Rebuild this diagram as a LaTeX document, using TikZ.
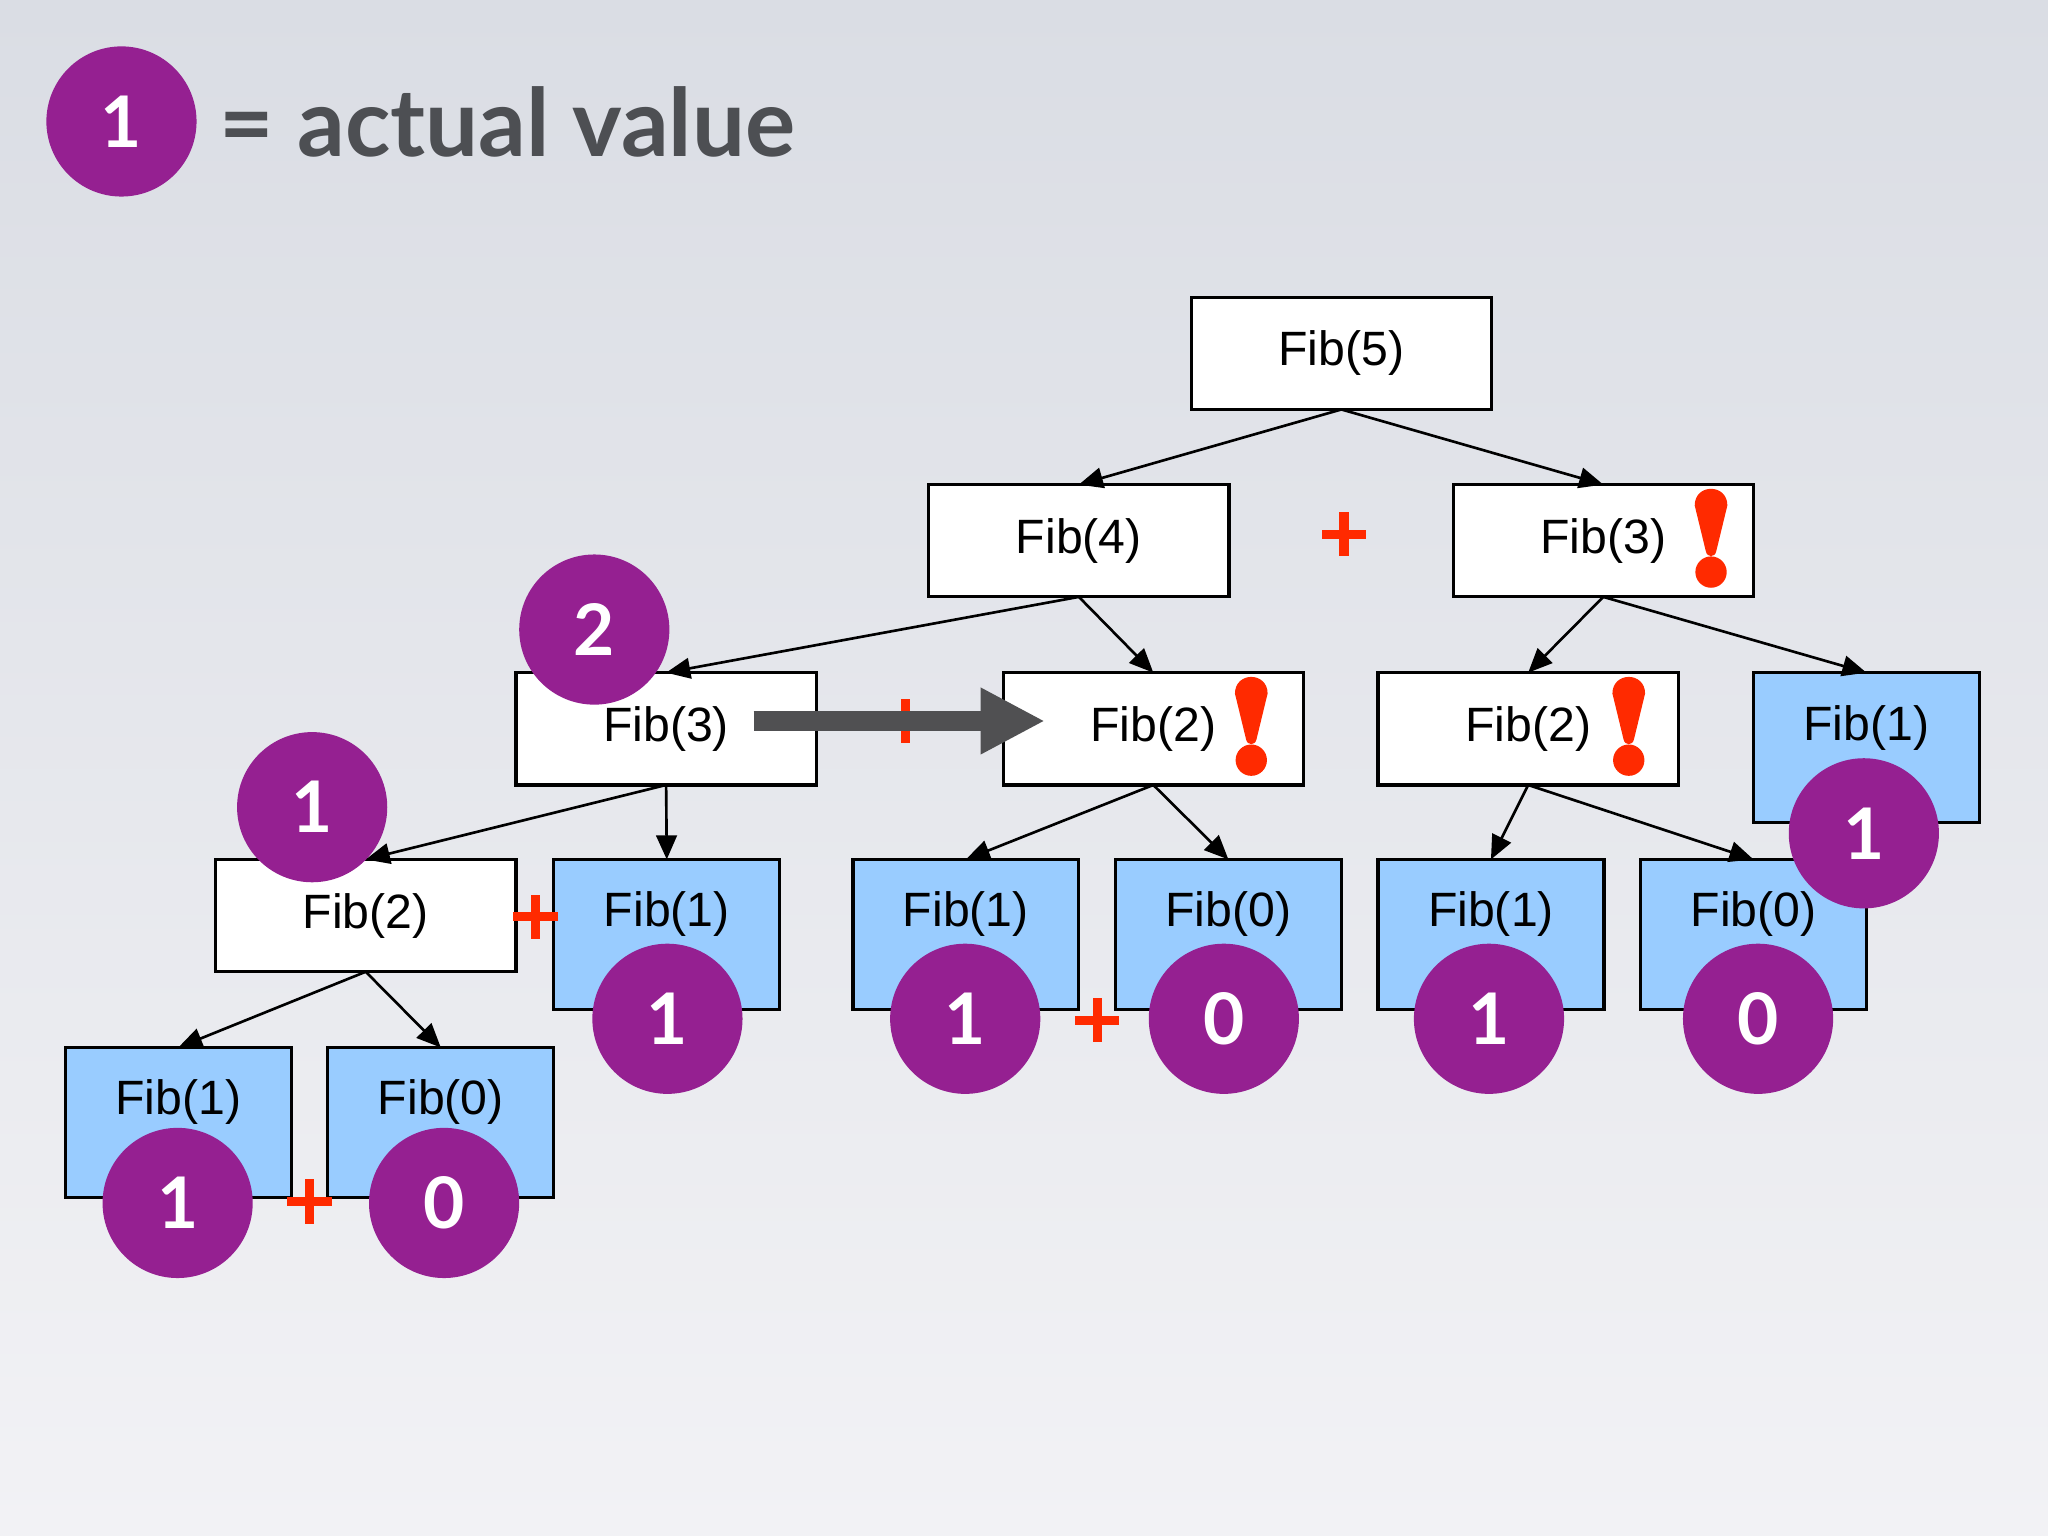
\documentclass[tikz,border=0pt]{standalone}
\usepackage{fontspec}
\setmainfont{Liberation Sans}
\newfontfamily\circfont{Lato}
\usetikzlibrary{arrows.meta,calc}
\definecolor{bgtop}{HTML}{DADDE4}
\definecolor{bgbot}{HTML}{F2F2F5}
\definecolor{boxblue}{HTML}{99CCFF}
\definecolor{vpurple}{HTML}{952091}
\definecolor{vred}{HTML}{FF2A00}
\definecolor{agray}{HTML}{505052}
\definecolor{lgray}{HTML}{4D4F53}
\begin{document}
\begin{tikzpicture}[x=0.02cm,y=-0.02cm,
  whitebox/.style={draw=black,fill=white,line width=1.4pt,minimum width=4.6cm,minimum height=1.72cm,inner sep=0pt,outer sep=0pt,font=\fontsize{21}{21}\selectfont},
  bluebox/.style={draw=black,fill=boxblue,line width=1.4pt,minimum width=3.46cm,minimum height=2.3cm,inner sep=0pt,outer sep=0pt},
  fibtext/.style={inner sep=0pt,font=\fontsize{21}{21}\selectfont},
  circ/.style={circle,fill=vpurple,minimum size=2.3cm,inner sep=0pt,text=white,font=\circfont\bfseries\fontsize{31}{31}\selectfont},
  edge/.style={line width=1.15pt,-{Triangle[length=10.5pt,width=9pt]}},
  bigarrow/.style={line width=9pt,draw=agray,-{Triangle[length=28pt,width=27pt]}},
  plusmark/.pic={\fill[vred] (-17,-3.5) rectangle (17,3.5); \fill[vred] (-3.5,-17) rectangle (3.5,17);},
  exclam/.pic={\fill[vred] (-12.5,-25) .. controls (-12.5,-42) and (12.5,-42) .. (12.5,-25) -- (4,10) .. controls (3,15) and (-3,15) .. (-4,10) -- cycle;
               \fill[vred] (0,26) circle (12);}
]
\useasboundingbox (0,0) rectangle (1568,1176);
\shade[top color=bgtop,bottom color=bgbot] (0,0) rectangle (1568,1176);

% legend
\node[circ] (leg) at (93,93) {1};
\node[anchor=west,inner sep=0pt,text=lgray,font=\circfont\bfseries\fontsize{41}{41}\selectfont] (legtext) at (168,93) {= actual value};

% white boxes
\node[whitebox] (f5) at (1027,270.5) {Fib(5)};
\node[whitebox] (f4) at (826,414) {Fib(4)};
\node[whitebox] (f3r) at (1227.5,414) {Fib(3)};
\node[whitebox] (f3l) at (510,558) {Fib(3)};
\node[whitebox] (f2m) at (883,558) {Fib(2)};
\node[whitebox] (f2r) at (1170,558) {Fib(2)};
\node[whitebox] (f2l) at (280,701) {Fib(2)};

% blue boxes
\node[bluebox] (rb1) at (1429,572.5) {};
\node[bluebox] (l4a) at (510.5,715.5) {};
\node[bluebox] (l4b) at (739.5,715.5) {};
\node[bluebox] (l4c) at (940.5,715.5) {};
\node[bluebox] (l4d) at (1141.5,715.5) {};
\node[bluebox] (l4e) at (1342.5,715.5) {};
\node[bluebox] (l5a) at (136.5,859.5) {};
\node[bluebox] (l5b) at (337.5,859.5) {};
\node[fibtext] (trb1) at ($(rb1.north)+(0,42)$) {Fib(1)};
\node[fibtext] (tl4a) at ($(l4a.north)+(0,42)$) {Fib(1)};
\node[fibtext] (tl4b) at ($(l4b.north)+(0,42)$) {Fib(1)};
\node[fibtext] (tl4c) at ($(l4c.north)+(0,42)$) {Fib(0)};
\node[fibtext] (tl4d) at ($(l4d.north)+(0,42)$) {Fib(1)};
\node[fibtext] (tl4e) at ($(l4e.north)+(0,42)$) {Fib(0)};
\node[fibtext] (tl5a) at ($(l5a.north)+(0,42)$) {Fib(1)};
\node[fibtext] (tl5b) at ($(l5b.north)+(0,42)$) {Fib(0)};

% edges
\draw[edge] (f5.south) -- (f4.north);
\draw[edge] (f5.south) -- (f3r.north);
\draw[edge] (f4.south) -- (f3l.north);
\draw[edge] (f4.south) -- (f2m.north);
\draw[edge] (f3r.south) -- (f2r.north);
\draw[edge] (f3r.south) -- (rb1.north);
\draw[edge] (f3l.south) -- (f2l.north);
\draw[edge] (f3l.south) -- (l4a.north);
\draw[edge] (f2m.south) -- (l4b.north);
\draw[edge] (f2m.south) -- (l4c.north);
\draw[edge] (f2r.south) -- (l4d.north);
\draw[edge] (f2r.south) -- (l4e.north);
\draw[edge] (f2l.south) -- (l5a.north);
\draw[edge] (f2l.south) -- (l5b.north);

% plus signs and exclamation marks
\pic at (1029,409) {plusmark};
\pic at (410,702) {plusmark};
\pic at (840,781) {plusmark};
\pic at (237,920) {plusmark};
\pic at (693,552) {plusmark};
\pic at (1310,412) {exclam};
\pic at (958,556) {exclam};
\pic at (1247,556) {exclam};

% big gray arrow
\coordinate (a1) at ($(f3l.east)+(-48,-6)$);
\coordinate (a2) at ($(f2m.west)+(32,-6)$);
\draw[bigarrow] (a1) -- (a2);

% value circles
\node[circ] (c2) at (455,482) {2};
\node[circ] (cf2l) at (239,618) {1};
\node[circ] (crb1) at (1427,638) {1};
\node[circ] (cl4a) at (511,780) {1};
\node[circ] (cl4b) at (739,780) {1};
\node[circ] (cl4c) at (937,780) {0};
\node[circ] (cl4d) at (1140,780) {1};
\node[circ] (cl4e) at (1346,780) {0};
\node[circ] (cl5a) at (136,921) {1};
\node[circ] (cl5b) at (340,921) {0};
\end{tikzpicture}
\end{document}
